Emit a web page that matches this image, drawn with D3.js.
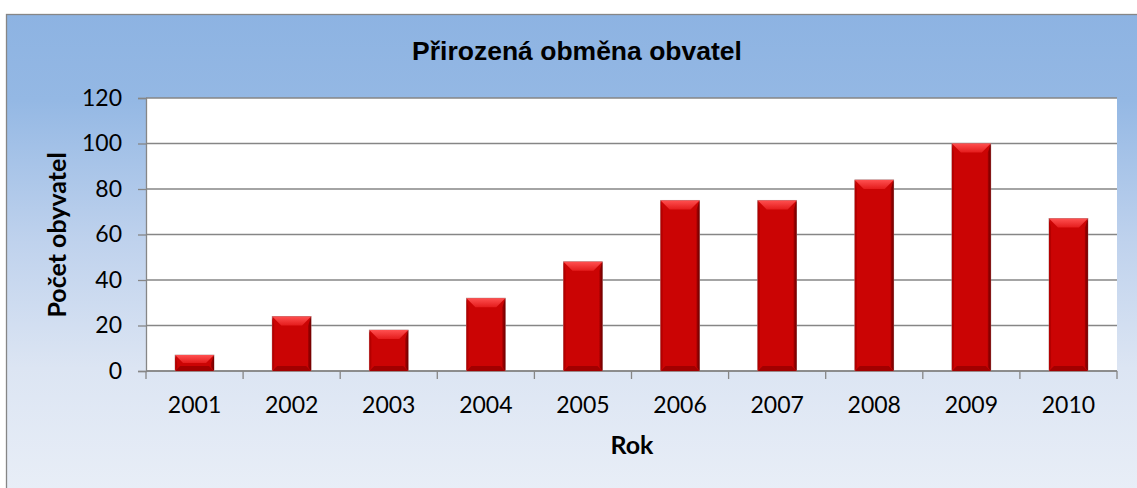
<!DOCTYPE html>
<html>
<head>
<meta charset="utf-8">
<script src="https://cdn.jsdelivr.net/npm/d3@7"></script>
<style>
  body { margin: 0; background: #ffffff; overflow: hidden; }
</style>
</head>
<body>
<div id="viscontainer"></div>
<script>
// data
const years = ["2001", "2002", "2003", "2004", "2005", "2006", "2007", "2008", "2009", "2010"];
const counts = [7, 24, 18, 32, 48, 75, 75, 84, 100, 67];
const yTicks = [0, 20, 40, 60, 80, 100, 120];

const chartTitle = "Přirozená obměna obvatel";
const yTitle = "Počet obyvatel";
const xTitle = "Rok";

const width = 1137;
const height = 488;

const plot = { left: 146, right: 1117, top: 98, bottom: 371 };

const tickFont = "Lato, 'Open Sans', sans-serif";

const svg = d3.select("#viscontainer")
  .append("svg")
  .attr("width", width)
  .attr("height", height);

const defs = svg.append("defs");

const bg = defs.append("linearGradient")
  .attr("id", "bg")
  .attr("gradientUnits", "userSpaceOnUse")
  .attr("x1", 0).attr("y1", 14)
  .attr("x2", 0).attr("y2", 520);
[["0", "#8db3e2"], ["0.17", "#94b8e4"], ["0.45", "#bfd2ed"], ["0.7", "#dce5f3"], ["1", "#ebf0f8"]]
  .forEach(([o, c]) => bg.append("stop").attr("offset", o).attr("stop-color", c));

const topBevel = defs.append("linearGradient")
  .attr("id", "topBevel")
  .attr("x1", 0).attr("y1", 0).attr("x2", 0).attr("y2", 1);
topBevel.append("stop").attr("offset", "0").attr("stop-color", "#ff5050");
topBevel.append("stop").attr("offset", "1").attr("stop-color", "#e41c1c");

const rightSide = defs.append("linearGradient")
  .attr("id", "rightSide")
  .attr("x1", 0).attr("y1", 0).attr("x2", 1).attr("y2", 0);
rightSide.append("stop").attr("offset", "0").attr("stop-color", "#a80000");
rightSide.append("stop").attr("offset", "1").attr("stop-color", "#6e0000");

// chart area
svg.append("rect")
  .attr("x", 6.5)
  .attr("y", 14.5)
  .attr("width", width + 20)
  .attr("height", height + 20)
  .attr("fill", "url(#bg)")
  .attr("stroke", "#868686")
  .attr("stroke-width", 1.3);

svg.append("rect")
  .attr("x", plot.left)
  .attr("y", plot.top)
  .attr("width", plot.right - plot.left)
  .attr("height", plot.bottom - plot.top)
  .attr("fill", "#ffffff");

const x = d3.scaleBand()
  .domain(years)
  .range([plot.left, plot.right])
  .paddingInner(0.6)
  .paddingOuter(0.3);

const y = d3.scaleLinear()
  .domain([0, 120])
  .range([plot.bottom, plot.top]);

// gridlines
svg.append("g")
  .selectAll("line")
  .data(yTicks)
  .join("line")
  .attr("x1", plot.left)
  .attr("x2", plot.right)
  .attr("y1", d => y(d))
  .attr("y2", d => y(d))
  .attr("stroke", "#868686")
  .attr("stroke-width", 1.3);

// y axis
const yAxis = svg.append("g")
  .attr("transform", `translate(${plot.left},0)`)
  .call(d3.axisLeft(y).tickValues(yTicks).tickSize(8).tickPadding(16));

yAxis.select(".domain").attr("stroke", "#868686").attr("stroke-width", 1.3);
yAxis.selectAll(".tick line").attr("stroke", "#868686").attr("stroke-width", 1.3);
yAxis.selectAll(".tick text")
  .attr("font-family", tickFont)
  .attr("font-size", 23)
  .attr("fill", "#000000");

// x axis
const xAxis = svg.append("g")
  .attr("transform", `translate(0,${plot.bottom})`)
  .call(d3.axisBottom(x).tickSize(0).tickPadding(26));

xAxis.select(".domain").remove();
xAxis.selectAll(".tick text")
  .attr("font-family", tickFont)
  .attr("font-size", 23)
  .attr("fill", "#000000");

svg.append("line")
  .attr("x1", plot.left)
  .attr("x2", plot.right)
  .attr("y1", plot.bottom)
  .attr("y2", plot.bottom)
  .attr("stroke", "#868686")
  .attr("stroke-width", 1.3);

const bounds = d3.range(years.length + 1).map(i => plot.left + i * (plot.right - plot.left) / years.length);

svg.append("g")
  .selectAll("line")
  .data(bounds)
  .join("line")
  .attr("x1", d => d)
  .attr("x2", d => d)
  .attr("y1", plot.bottom)
  .attr("y2", plot.bottom + 8)
  .attr("stroke", "#868686")
  .attr("stroke-width", 1.3);

// bars with a bevel look
const bars = svg.append("g")
  .selectAll("g")
  .data(years.map((yr, i) => ({ yr, v: counts[i] })))
  .join("g");

bars.append("rect")
  .attr("x", d => x(d.yr))
  .attr("y", d => y(d.v))
  .attr("width", x.bandwidth())
  .attr("height", d => y(0) - y(d.v))
  .attr("fill", "#cb0404")
  .attr("stroke", "#b08080")
  .attr("stroke-width", 0.8);

const bev = 9;

bars.append("polygon")
  .attr("points", d => {
    const x0 = x(d.yr), x1 = x0 + x.bandwidth(), t = y(d.v);
    const b = Math.min(bev, (y(0) - t) / 2);
    return [[x0, t], [x1, t], [x1 - b, t + b], [x0 + b, t + b]].join(" ");
  })
  .attr("fill", "url(#topBevel)");

bars.append("polygon")
  .attr("points", d => {
    const x0 = x(d.yr), x1 = x0 + x.bandwidth(), t = y(d.v), btm = y(0);
    const b = Math.min(bev, (btm - t) / 2);
    return [[x1, t], [x1, btm], [x1 - 3, btm - 4], [x1 - 3, t + b]].join(" ");
  })
  .attr("fill", "url(#rightSide)");

bars.append("polygon")
  .attr("points", d => {
    const x0 = x(d.yr), t = y(d.v), btm = y(0);
    const b = Math.min(bev, (btm - t) / 2);
    return [[x0, t], [x0 + 2, t + b], [x0 + 2, btm - 4], [x0, btm]].join(" ");
  })
  .attr("fill", "#b30000");

bars.append("polygon")
  .attr("points", d => {
    const x0 = x(d.yr), x1 = x0 + x.bandwidth(), btm = y(0);
    return [[x0, btm], [x1, btm], [x1 - 5, btm - 5], [x0 + 5, btm - 5]].join(" ");
  })
  .attr("fill", "#a20000");

// titles
svg.append("text")
  .attr("x", 577)
  .attr("y", 60)
  .attr("text-anchor", "middle")
  .attr("font-family", "'Liberation Sans', Arial, sans-serif")
  .attr("font-weight", "bold")
  .attr("font-size", 26.5)
  .attr("fill", "#000000")
  .text(chartTitle);

svg.append("text")
  .attr("transform", "translate(66,235) rotate(-90)")
  .attr("text-anchor", "middle")
  .attr("font-family", tickFont)
  .attr("font-weight", "bold")
  .attr("font-size", 25)
  .attr("fill", "#000000")
  .text(yTitle);

svg.append("text")
  .attr("x", 632)
  .attr("y", 454)
  .attr("text-anchor", "middle")
  .attr("font-family", tickFont)
  .attr("font-weight", "bold")
  .attr("font-size", 25)
  .attr("fill", "#000000")
  .text(xTitle);
</script>
</body>
</html>
